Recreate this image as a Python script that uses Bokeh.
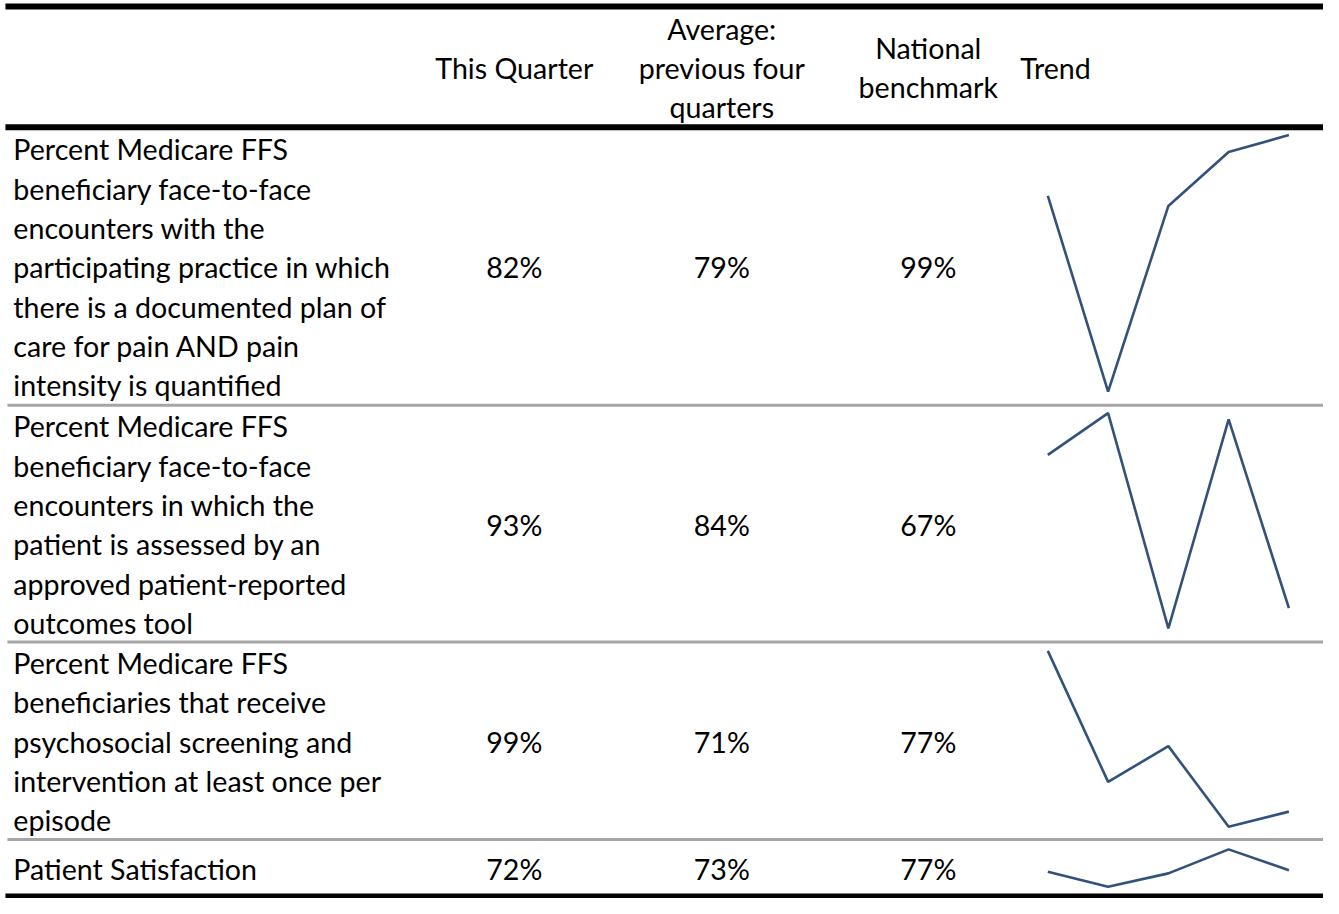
from bokeh.plotting import figure
from bokeh.models import Range1d
from bokeh.core.properties import value
from bokeh.embed import file_html
from bokeh.resources import INLINE

# ---------------- data ----------------
column_headers = ["This Quarter", "Average:\nprevious four\nquarters", "National\nbenchmark"]
trend_header = "Trend"

measures = [
    "Percent Medicare FFS\nbeneficiary face-to-face\nencounters with the\nparticipating practice in which\nthere is a documented plan of\ncare for pain AND pain\nintensity is quantified",
    "Percent Medicare FFS\nbeneficiary face-to-face\nencounters in which the\npatient is assessed by an\napproved patient-reported\noutcomes tool",
    "Percent Medicare FFS\nbeneficiaries that receive\npsychosocial screening and\nintervention at least once per\nepisode",
    "Patient Satisfaction",
]
this_quarter = [82, 93, 99, 72]
prev_four_avg = [79, 84, 71, 73]
national_benchmark = [99, 67, 77, 77]

trend_pain_plan = [80.2, 74.4, 79.9, 81.5, 82.0]
trend_pro_tool = [91.7, 95.0, 78.0, 94.5, 79.6]
trend_psychosocial = [99.0, 77.4, 83.3, 70.0, 72.5]
trend_satisfaction = [72.8, 70.0, 72.5, 77.0, 73.1]
trend_series = [trend_pain_plan, trend_pro_tool, trend_psychosocial, trend_satisfaction]

# ---------------- layout (reference pixel space) ----------------
W, H = 1323, 898
X0, X1 = 0, 1339
Y_TOP, Y_BOT = 0, 914
top_rule, header_rule = 6, 129
row_rules = [412, 653, 854]
bottom_rule = 912
row_bounds = [header_rule] + row_rules + [bottom_rule - 1]
col_centers = [520, 730, 939]
label_x = 13
trend_label_x = 1032
trend_x_first, trend_x_step = 1060, 61
spark_pads = [(8, 14), (8, 14), (9, 13), (10, 9)]
line_gap = 40
FONT = "Lato"
FS = "28.6px"
SPARK_COLOR = "#31527a"

p = figure(width=W, height=H, output_backend="svg", toolbar_location=None,
           x_range=Range1d(X0, X1), y_range=Range1d(Y_BOT, Y_TOP),
           min_border=0, outline_line_color=None)
p.axis.visible = False
p.grid.visible = False
p.background_fill_color = "white"
p.border_fill_color = "white"

# rules
p.segment(x0=[5, 5, 5], x1=[1339, 1339, 1339], y0=[top_rule, header_rule, bottom_rule],
          y1=[top_rule, header_rule, bottom_rule], line_color="black", line_width=6)
p.segment(x0=[7] * 3, x1=[1339] * 3, y0=row_rules, y1=row_rules,
          line_color="#a6a6a6", line_width=3)


def put_lines(xs, yc, text, align):
    lines = text.split("\n")
    n = len(lines)
    ys = [yc + (i - (n - 1) / 2) * line_gap for i in range(n)]
    p.text(x=[xs] * n, y=ys, text=lines, text_font=value(FONT), text_font_size=FS,
           text_align=align, text_baseline="middle", text_color="black")


# header
hc = (top_rule + header_rule) / 2 + 1
for cx, h in zip(col_centers, column_headers):
    put_lines(cx, hc, h, "center")
put_lines(trend_label_x, hc, trend_header, "left")

# rows
for i, m in enumerate(measures):
    yc = (row_bounds[i] + row_bounds[i + 1]) / 2 + 1
    put_lines(label_x, yc, m, "left")
    for cx, vals in zip(col_centers, [this_quarter, prev_four_avg, national_benchmark]):
        put_lines(cx, yc, f"{vals[i]}%", "center")

# sparklines via per-row scales
xr_name = "trend_x"
p.extra_x_ranges[xr_name] = Range1d((X0 - trend_x_first) / trend_x_step,
                                    (X1 - trend_x_first) / trend_x_step)
for i, vals in enumerate(trend_series):
    top = row_bounds[i] + spark_pads[i][0]
    bot = row_bounds[i + 1] - spark_pads[i][1]
    vmin, vmax = min(vals), max(vals)
    b = (top - bot) / (vmax - vmin)
    a = bot - b * vmin
    name = f"trend_y{i}"
    p.extra_y_ranges[name] = Range1d((Y_BOT - a) / b, (Y_TOP - a) / b)
    p.line(x=list(range(len(vals))), y=vals, x_range_name=xr_name, y_range_name=name,
           line_color=SPARK_COLOR, line_width=2.6)

open("out.html", "w").write(file_html(p, INLINE))
